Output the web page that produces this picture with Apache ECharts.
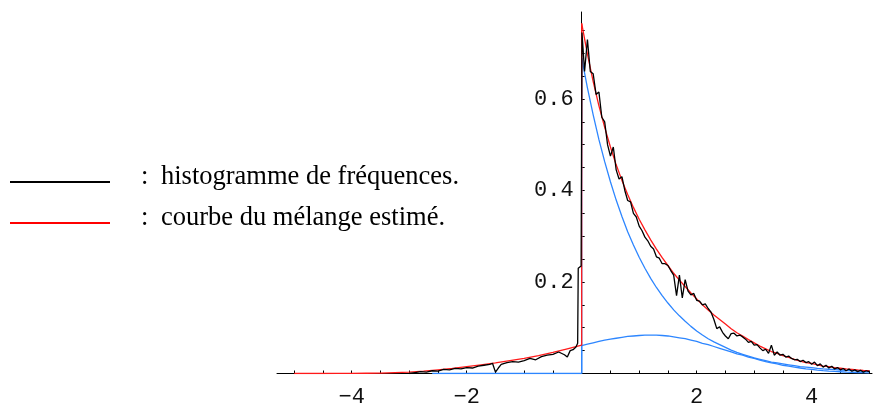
<!DOCTYPE html>
<html>
<head>
<meta charset="utf-8">
<script src="https://cdn.jsdelivr.net/npm/echarts@6/dist/echarts.min.js"></script>
<style>
  html, body { margin: 0; padding: 0; background: #ffffff; }
  #chart { width: 873px; height: 408px; }
</style>
</head>
<body>
<div id="chart"></div>
<script>
// Mixture curve left of 0
const leftX = [-5, -4.75, -4.5, -4.25, -4, -3.75, -3.5, -3.25, -3, -2.75, -2.5, -2.25, -2, -1.75, -1.5, -1.25, -1, -0.75, -0.5, -0.25, 0];
const mixLeft = [0, 0, 0, 0.0001, 0.0003, 0.0006, 0.001, 0.002, 0.003, 0.005, 0.008, 0.011, 0.015, 0.019, 0.023, 0.028, 0.033, 0.039, 0.046, 0.054, 0.062];
// Both components are zero left of 0
const compLeftX = [-2.6, 0];
const compLeft = [0, 0];

// Mixture curve and its two components right of 0
const rightX = [
  0, 0.1, 0.2, 0.3, 0.4, 0.5, 0.6, 0.7, 0.8, 0.9, 1, 1.1, 1.2, 1.3, 1.4, 1.5, 1.6, 1.7, 1.8, 1.9,
  2, 2.1, 2.2, 2.3, 2.4, 2.5, 2.6, 2.7, 2.8, 2.9, 3, 3.1, 3.2, 3.3, 3.4, 3.5, 3.6, 3.7, 3.8, 3.9,
  4, 4.1, 4.2, 4.3, 4.4, 4.5, 4.6, 4.7, 4.8, 4.9, 5
];
const mixRight = [
  0.765, 0.698, 0.638, 0.585, 0.538, 0.495, 0.456, 0.422, 0.391, 0.363, 0.337, 0.314, 0.292, 0.272, 0.253, 0.236, 0.219, 0.204, 0.190, 0.176,
  0.163, 0.150, 0.139, 0.128, 0.118, 0.108, 0.098, 0.089, 0.082, 0.074, 0.067, 0.060, 0.054, 0.048, 0.044, 0.039, 0.035, 0.031, 0.027, 0.024,
  0.022, 0.019, 0.016, 0.015, 0.013, 0.0115, 0.010, 0.0089, 0.0078, 0.0068, 0.006
];
const expComp = [
  0.690, 0.624, 0.565, 0.511, 0.463, 0.419, 0.379, 0.343, 0.310, 0.281, 0.254, 0.230, 0.208, 0.188, 0.170, 0.154, 0.139, 0.126, 0.114, 0.103,
  0.093, 0.084, 0.076, 0.069, 0.063, 0.057, 0.051, 0.046, 0.042, 0.038, 0.034, 0.031, 0.028, 0.025, 0.023, 0.021, 0.019, 0.017, 0.015, 0.014,
  0.013, 0.011, 0.010, 0.0093, 0.0085, 0.0077, 0.0069, 0.0063, 0.0057, 0.0051, 0.0046
];
const normComp = [
  0.061, 0.064, 0.067, 0.070, 0.073, 0.075, 0.077, 0.079, 0.081, 0.082, 0.083, 0.084, 0.084, 0.084, 0.083, 0.082, 0.080, 0.078, 0.076, 0.073,
  0.070, 0.066, 0.063, 0.059, 0.055, 0.051, 0.047, 0.043, 0.040, 0.036, 0.033, 0.029, 0.026, 0.023, 0.021, 0.018, 0.016, 0.014, 0.012, 0.010,
  0.0088, 0.0075, 0.0064, 0.0054, 0.0045, 0.0038, 0.0031, 0.0026, 0.0021, 0.0017, 0.0014
];

// Frequency histogram (polygon)
const histX = [
  -3.0, -2.9, -2.8, -2.7, -2.6, -2.5, -2.4, -2.3, -2.2, -2.1, -2.0, -1.9, -1.8, -1.7, -1.6, -1.55, -1.5, -1.45, -1.4,
  -1.3, -1.2, -1.1, -1.0, -0.9, -0.8, -0.7, -0.6, -0.5, -0.4, -0.3, -0.25, -0.2, -0.15, -0.1, -0.07, -0.06, -0.01,
  0.005, 0.05, 0.10, 0.15, 0.20, 0.25, 0.30, 0.35, 0.40, 0.45, 0.50, 0.55, 0.60, 0.65, 0.70, 0.75, 0.80, 0.85, 0.90, 0.95,
  1.00, 1.05, 1.10, 1.15, 1.20, 1.25, 1.30, 1.35, 1.40, 1.45, 1.50, 1.55, 1.60, 1.65, 1.70, 1.75, 1.80, 1.85, 1.90, 1.95,
  2.00, 2.05, 2.10, 2.15, 2.20, 2.25, 2.30, 2.35, 2.40, 2.45, 2.50, 2.55, 2.60, 2.65, 2.70, 2.75, 2.80, 2.85, 2.90, 2.95,
  3.00, 3.05, 3.10, 3.15, 3.20, 3.25, 3.30, 3.35, 3.40, 3.45, 3.50, 3.55, 3.60, 3.65, 3.70, 3.75, 3.80, 3.85, 3.90, 3.95,
  4.00, 4.05, 4.10, 4.15, 4.20, 4.25, 4.30, 4.35, 4.40, 4.45, 4.50, 4.55, 4.60, 4.65, 4.70, 4.75, 4.80, 4.85, 4.90, 4.95, 5.00
];
const histY = [
  0, 0.002, 0.004, 0.003, 0.006, 0.005, 0.009, 0.008, 0.011, 0.010, 0.013, 0.012, 0.016, 0.018, 0.020, 0.022, 0.003, 0.012, 0.020,
  0.024, 0.026, 0.025, 0.028, 0.033, 0.030, 0.037, 0.040, 0.042, 0.047, 0.041, 0.036, 0.050, 0.052, 0.058, 0.066, 0.230, 0.235,
  0.745, 0.660, 0.730, 0.660, 0.655, 0.610, 0.615, 0.560, 0.550, 0.500, 0.475, 0.495, 0.445, 0.425, 0.430, 0.400, 0.378, 0.375, 0.350, 0.342,
  0.322, 0.312, 0.298, 0.290, 0.278, 0.272, 0.255, 0.252, 0.240, 0.240, 0.236, 0.225, 0.215, 0.170, 0.215, 0.165, 0.205, 0.180, 0.172, 0.175,
  0.160, 0.158, 0.150, 0.152, 0.142, 0.134, 0.118, 0.098, 0.102, 0.090, 0.082, 0.076, 0.087, 0.088, 0.082, 0.084, 0.080, 0.075, 0.068, 0.070,
  0.062, 0.063, 0.056, 0.050, 0.053, 0.044, 0.062, 0.040, 0.047, 0.040, 0.042, 0.036, 0.038, 0.033, 0.030, 0.031, 0.026, 0.029, 0.024, 0.026,
  0.020, 0.025, 0.017, 0.021, 0.014, 0.018, 0.012, 0.016, 0.010, 0.013, 0.008, 0.011, 0.006, 0.010, 0.005, 0.008, 0.004, 0.007, 0.003, 0.006, 0.004
];

// Axis ticks and labels
const xTicks = [-5, -4.5, -4, -3.5, -3, -2.5, -2, -1.5, -1, -0.5, 0.5, 1, 1.5, 2, 2.5, 3, 3.5, 4, 4.5, 5];
const xLabels = [-4, -2, 2, 4];
const yTicks = [0.05, 0.1, 0.15, 0.2, 0.25, 0.3, 0.35, 0.4, 0.45, 0.5, 0.55, 0.6, 0.65, 0.7, 0.75];
const yLabels = [0.2, 0.4, 0.6];

const legendItems = [
  { text: 'histogramme de fréquences.', color: '#000000', y: 182 },
  { text: 'courbe du mélange estimé.', color: '#ff0000', y: 223 }
];

const RED = '#ff1a1a';
const BLUE = '#2d86ff';
const X_MIN = -5.3, X_MAX = 5.05, Y_MAX = 0.79;
const PLOT_LEFT = 277, PLOT_RIGHT = 1, PLOT_TOP = 12, PLOT_BOTTOM = 34.5;

function pairs(xs, ys) { return xs.map((x, i) => [x, ys[i]]); }

function lineSeries(data, color, z) {
  return {
    type: 'line', data: data, showSymbol: false, symbol: 'none', smooth: false,
    lineStyle: { color: color, width: 1.3 }, z: z, animation: false, silent: true,
    xAxisIndex: 0, yAxisIndex: 0
  };
}

const monoFont = "'Liberation Mono', 'DejaVu Sans Mono', monospace";
const serifFont = "'Liberation Serif', 'Times New Roman', serif";

const graphics = [];
legendItems.forEach(item => {
  graphics.push({
    type: 'line', shape: { x1: 10, y1: item.y, x2: 110, y2: item.y },
    style: { stroke: item.color, lineWidth: 2 }
  });
  graphics.push({
    type: 'text', x: 141, y: item.y - 5,
    style: { text: ':', font: '26.5px ' + serifFont, fill: '#000', verticalAlign: 'middle' }
  });
  graphics.push({
    type: 'text', x: 161, y: item.y - 5,
    style: { text: item.text, font: '26.5px ' + serifFont, fill: '#000', verticalAlign: 'middle' }
  });
});

const chart = echarts.init(document.getElementById('chart'), null, { renderer: 'canvas' });
// x = 0 in the data grid, where the vertical axis is drawn
const zeroPx = PLOT_LEFT + (0 - X_MIN) / (X_MAX - X_MIN) * (873 - PLOT_LEFT - PLOT_RIGHT);

chart.setOption({
  backgroundColor: '#ffffff',
  animation: false,
  grid: [
    { left: PLOT_LEFT, right: PLOT_RIGHT, top: PLOT_TOP, bottom: PLOT_BOTTOM, containLabel: false, outerBoundsMode: 'none' },
    { left: zeroPx, right: PLOT_RIGHT, top: PLOT_TOP, bottom: PLOT_BOTTOM, containLabel: false, outerBoundsMode: 'none' }
  ],
  xAxis: [
    {
      type: 'value', gridIndex: 0, min: X_MIN, max: X_MAX,
      axisLine: { onZero: false, lineStyle: { color: '#000', width: 1 } },
      axisTick: { show: true, inside: true, length: 3, customValues: xTicks, lineStyle: { color: '#000' } },
      axisLabel: {
        customValues: xLabels, margin: 13, color: '#111', fontFamily: monoFont, fontSize: 22,
        formatter: v => (v < 0 ? '\u2212' + Math.abs(v) : String(v))
      },
      splitLine: { show: false }
    },
    { type: 'value', gridIndex: 1, min: 0, max: 1, show: false }
  ],
  yAxis: [
    { type: 'value', gridIndex: 0, min: 0, max: Y_MAX, show: false },
    {
      type: 'value', gridIndex: 1, min: 0, max: Y_MAX,
      axisLine: { show: true, onZero: false, lineStyle: { color: '#000', width: 1 } },
      axisTick: { show: true, inside: true, length: 3, customValues: yTicks, lineStyle: { color: '#000' } },
      axisLabel: {
        customValues: yLabels, margin: 8, color: '#111', fontFamily: monoFont, fontSize: 22,
        formatter: v => v.toFixed(1)
      },
      splitLine: { show: false }
    }
  ],
  graphic: graphics,
  series: [
    // components
    lineSeries(pairs(compLeftX, compLeft), BLUE, 2),
    lineSeries([[0, 0], [0, expComp[0]]], BLUE, 2),
    lineSeries([[0, 0], [0, normComp[0]]], BLUE, 2),
    lineSeries(pairs(rightX, expComp), BLUE, 2),
    lineSeries(pairs(rightX, normComp), BLUE, 2),
    // mixture
    lineSeries(pairs(leftX, mixLeft), RED, 3),
    lineSeries([[0, mixLeft[mixLeft.length - 1]], [0, mixRight[0]]], RED, 3),
    lineSeries(pairs(rightX, mixRight), RED, 3),
    // histogram
    lineSeries(pairs(histX, histY), '#000000', 4)
  ]
});
</script>
</body>
</html>
